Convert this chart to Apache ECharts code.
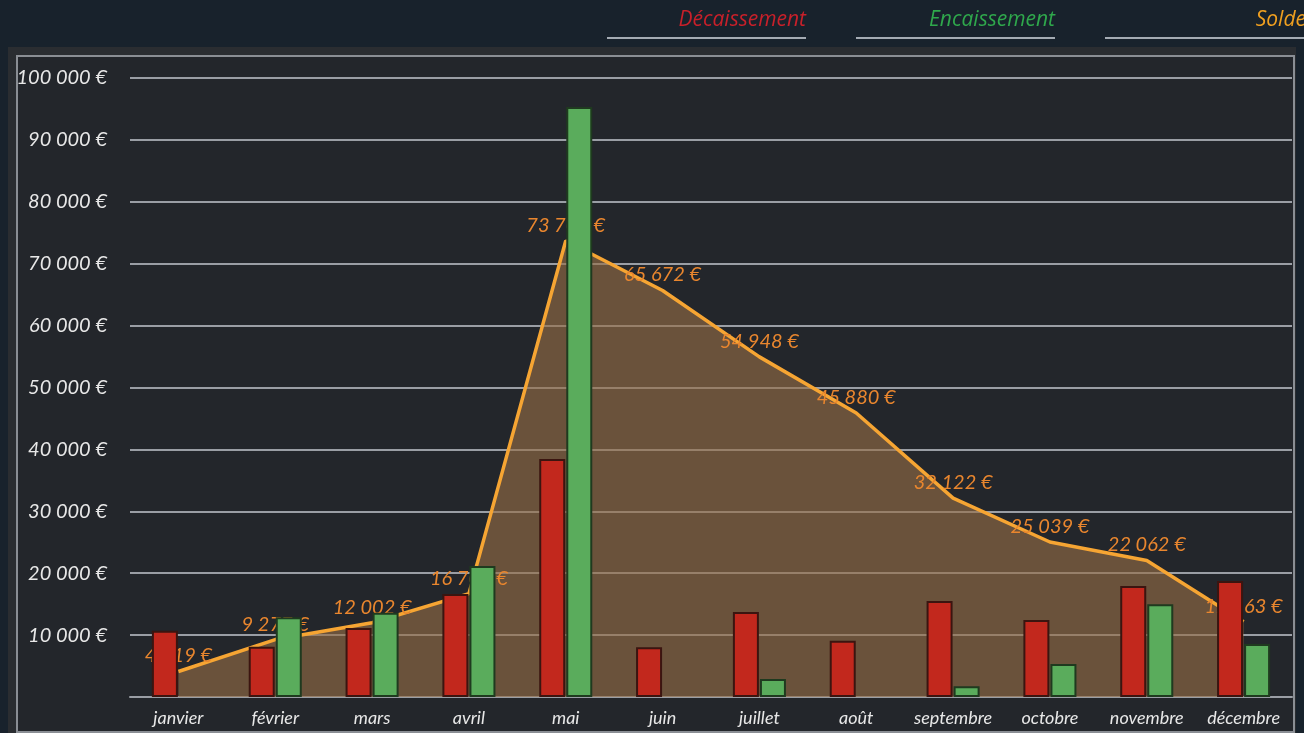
<!DOCTYPE html>
<html>
<head>
<meta charset="utf-8">
<title>Trésorerie</title>
<script src="https://cdn.jsdelivr.net/npm/echarts@6/dist/echarts.min.js"></script>
<style>
  html, body { margin: 0; padding: 0; background: #18222c; }
  #chart { width: 1304px; height: 733px; }
</style>
</head>
<body>
<div id="chart"></div>
<script>
// months
const months = ["janvier", "février", "mars", "avril", "mai", "juin",
  "juillet", "août", "septembre", "octobre", "novembre", "décembre"];

// money out / money in / running balance, in €
const decaissement = [10700, 8100, 11150, 16650, 38450, 8030, 13750, 9070, 15500, 12450, 17950, 18750];
const encaissement = [null, 12900, 13600, 21150, 95300, null, 2900, null, 1750, 5350, 15000, 8550];
const solde = [4119, 9277, 12002, 16704, 73701, 65672, 54948, 45880, 32122, 25039, 22062, 12163];

const yTicks = [0, 10000, 20000, 30000, 40000, 50000, 60000, 70000, 80000, 90000, 100000];

const fmtEuro = v => String(Math.round(v)).replace(/\B(?=(\d{3})+(?!\d))/g, "\u202f") + " €";

const colors = {
  dec: "#c2281d",
  enc: "#5aac5c",
  solde: "#f6a533",
  soldeLabel: "#e9862e",
  grid: "#9a9ea5",
  text: "#e8e8e8"
};

const chart = echarts.init(document.getElementById("chart"));

const legendItem = (name, color, right) => ({
  data: [{ name: name, textStyle: { color: color } }],
  right: right,
  top: 10,
  icon: "none",
  itemWidth: 0,
  itemGap: 0,
  padding: 0,
  textStyle: { fontFamily: "Open Sans", fontStyle: "italic", fontSize: 21, color: color }
});

const option = {
  backgroundColor: "#18222c",
  animation: false,
  graphic: [
    {
      type: "rect",
      left: 8, top: 47,
      shape: { width: 1288, height: 690 },
      style: { fill: "#2a2d31" },
      z: -10
    },
    {
      type: "rect",
      left: 16, top: 55,
      shape: { width: 1277, height: 676 },
      style: { fill: "#23262b", stroke: "#8a8e94", lineWidth: 2 },
      z: -9
    },
    { type: "line", shape: { x1: 607, y1: 38, x2: 806, y2: 38 }, style: { stroke: "#a4abb3", lineWidth: 2 } },
    { type: "line", shape: { x1: 856, y1: 38, x2: 1055, y2: 38 }, style: { stroke: "#a4abb3", lineWidth: 2 } },
    { type: "line", shape: { x1: 1105, y1: 38, x2: 1304, y2: 38 }, style: { stroke: "#a4abb3", lineWidth: 2 } }
  ],
  legend: [
    legendItem("Décaissement", "#c8202a", 498),
    legendItem("Encaissement", "#2fa84c", 249),
    legendItem("Solde", "#f0a020", -2)
  ],
  grid: {
    left: 130,
    right: 12,
    top: 78,
    bottom: 36
  },
  xAxis: {
    type: "category",
    data: months,
    axisLine: { show: true, lineStyle: { color: colors.grid, width: 2 } },
    axisTick: { show: false },
    axisLabel: {
      color: colors.text,
      fontFamily: "Lato",
      fontStyle: "italic",
      fontSize: 18,
      margin: 12,
      interval: 0
    }
  },
  yAxis: {
    type: "value",
    min: yTicks[0],
    max: yTicks[yTicks.length - 1],
    interval: 10000,
    axisLine: { show: false },
    axisTick: { show: false },
    splitLine: { lineStyle: { color: colors.grid, width: 2 } },
    axisLabel: {
      color: colors.text,
      fontFamily: "Lato",
      fontStyle: "italic",
      fontSize: 20,
      margin: 23,
      formatter: v => (v === 0 ? "" : fmtEuro(v))
    }
  },
  series: [
    {
      name: "Solde",
      type: "line",
      data: solde,
      z: 1,
      symbol: "circle",
      symbolSize: 1,
      showSymbol: true,
      lineStyle: { color: colors.solde, width: 3.5 },
      itemStyle: { color: "rgba(0,0,0,0)", borderWidth: 0 },
      areaStyle: { color: "rgba(150,110,70,0.62)", opacity: 1 },
      label: {
        show: true,
        position: "top",
        distance: 5,
        color: colors.soldeLabel,
        fontFamily: "Lato",
        fontStyle: "italic",
        fontSize: 20,
        formatter: p => fmtEuro(p.value)
      }
    },
    {
      name: "Décaissement",
      type: "bar",
      data: decaissement,
      z: 3,
      barWidth: 26,
      barGap: "4%",
      itemStyle: { color: colors.dec, borderColor: "#3b1510", borderWidth: 2 }
    },
    {
      name: "Encaissement",
      type: "bar",
      data: encaissement,
      z: 3,
      barWidth: 26,
      itemStyle: { color: colors.enc, borderColor: "#1f3a1f", borderWidth: 2 }
    }
  ]
};

chart.setOption(option);
</script>
</body>
</html>
